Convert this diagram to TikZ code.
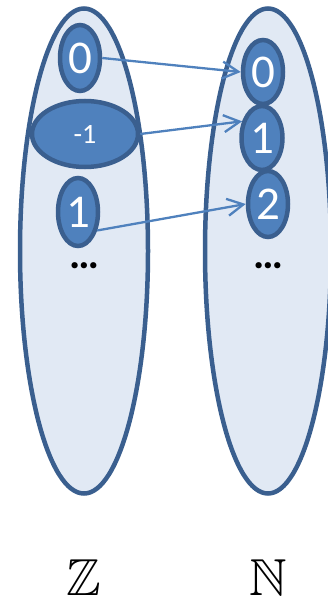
\documentclass[tikz,border=0pt]{standalone}
\usepackage{amssymb}
\usepackage{fontspec}
\setmainfont{Carlito}
\usetikzlibrary{shapes.geometric,arrows.meta}
\definecolor{edgeblue}{HTML}{3A5F8F}
\definecolor{setfill}{HTML}{E1E9F4}
\definecolor{elemfill}{HTML}{4F81BD}
\tikzset{
  setbox/.style={ellipse, draw=edgeblue, fill=setfill, line width=4.5pt, inner sep=0pt},
  elem/.style={ellipse, draw=edgeblue, fill=elemfill, line width=4.5pt, inner sep=0pt,
    text=white, font=\fontsize{47}{47}\selectfont},
  maparrow/.style={draw=elemfill, line width=2.3pt, -{Straight Barb[length=16pt,width=17pt,line width=2.3pt]}},
  dotsnode/.style={font=\bfseries\fontsize{42}{42}\selectfont, inner sep=0pt, text height=6pt, text depth=0pt, anchor=base},
  setlabel/.style={font=\fontsize{52}{52}\selectfont, inner sep=0pt}
}
\begin{document}
\begin{tikzpicture}[x=1pt,y=-1pt]
\useasboundingbox (0,0) rectangle (328,596);
\node[setbox, minimum width=128pt, minimum height=485pt] (Zset) at (84,251) {};
\node[setbox, minimum width=126pt, minimum height=485pt] (Nset) at (268,251) {};
\node[elem, minimum width=40pt, minimum height=66pt] (z0) at (80,58) {0};
\node[elem, minimum width=106pt, minimum height=66pt, font=\fontsize{28}{28}\selectfont] (zm1) at (85,134) {-1};
\node[elem, minimum width=40pt, minimum height=68pt] (z1) at (78,212) {1};
\node[elem, minimum width=40pt, minimum height=64pt] (n0) at (263,72) {0};
\node[elem, minimum width=41pt, minimum height=64pt] (n1) at (262,138) {1};
\node[elem, minimum width=40pt, minimum height=66pt] (n2) at (268,204) {2};
\node[dotsnode] (zdots) at (84,268) {…};
\node[dotsnode] (ndots) at (268,268) {…};
\draw[maparrow] (z0.east) -- (n0.west);
\draw[maparrow] (zm1.east) -- (n1.140);
\draw[maparrow] (z1.-44) -- (n2.west);
\node[setlabel] (zlab) at (84,578) {$\mathbb{Z}$};
\node[setlabel] (nlab) at (268,578) {$\mathbb{N}$};
\end{tikzpicture}
\end{document}
